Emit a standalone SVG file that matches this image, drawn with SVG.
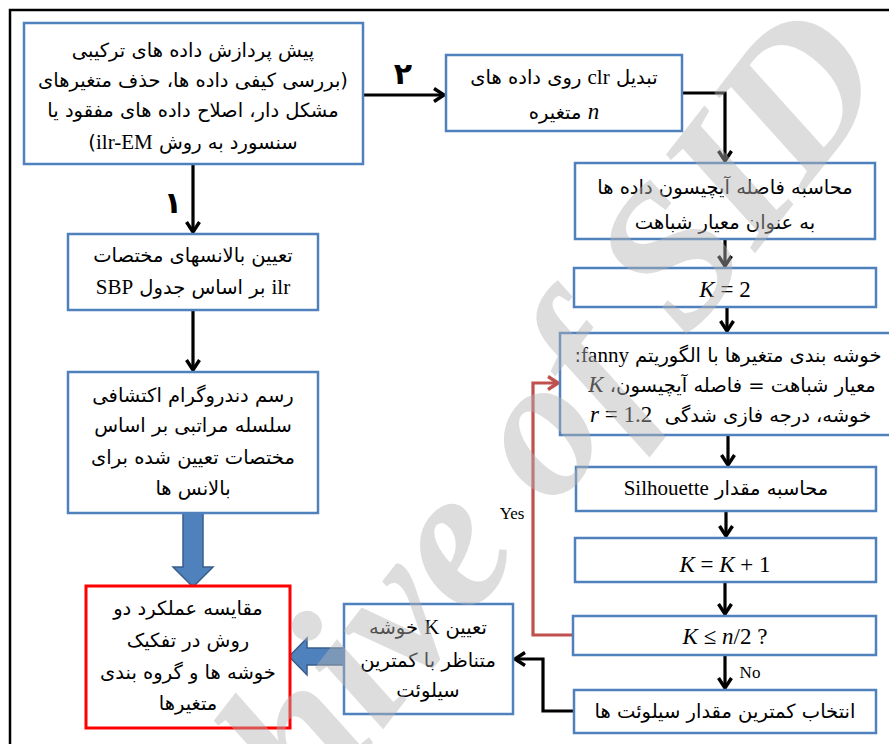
<svg xmlns="http://www.w3.org/2000/svg" width="889" height="744" viewBox="0 0 889 744">
<style>
.box{fill:#fff;stroke:#4F81BD;stroke-width:2.5}
.red{fill:#fff;stroke:#FF0000;stroke-width:3}
.fa{font-family:"DejaVu Sans","Noto Sans",sans-serif;font-size:19.5px;fill:#000}
.lat{font-family:"Liberation Serif",serif;font-size:21px}
.mi{font-family:"Liberation Serif",serif;font-style:italic}
.math{font-family:"Liberation Serif",serif;font-size:23px;fill:#000}
.lbl{font-family:"Liberation Serif",serif;font-size:17px;fill:#000}
.num{font-family:"DejaVu Sans",sans-serif;font-size:30px;font-weight:bold;fill:#000}
.conn{fill:none;stroke:#000;stroke-width:3.2}
.back{fill:none;stroke:#C0504D;stroke-width:3.2}
.blk{fill:#4F81BD;stroke:#385D8A;stroke-width:1.5}
.wm{font-family:"Liberation Serif",serif;font-style:italic;font-weight:bold;font-size:200px;fill:#b4b4b4;fill-opacity:0.45}
</style>
<defs>
<marker id="ah" viewBox="0 0 14 16" refX="12" refY="8" markerWidth="14" markerHeight="16" markerUnits="userSpaceOnUse" orient="auto">
<path d="M2,1.5 L12,8 L2,14.5" fill="none" stroke="#000" stroke-width="3.4"/>
</marker>
<marker id="ahr" viewBox="0 0 14 16" refX="12" refY="8" markerWidth="14" markerHeight="16" markerUnits="userSpaceOnUse" orient="auto">
<path d="M2,1.5 L12,8 L2,14.5" fill="none" stroke="#C0504D" stroke-width="3.4"/>
</marker>
</defs>
<rect width="889" height="744" fill="#fff"/>
<path d="M10,744 V10 H889" fill="none" stroke="#000" stroke-width="2.5"/>

<g id="connectors">
<path class="conn" d="M363,95 H444" marker-end="url(#ah)"/>
<path class="conn" d="M193,164 V232" marker-end="url(#ah)"/>
<path class="conn" d="M193,310 V370" marker-end="url(#ah)"/>
<path class="conn" d="M682,93 H725 V161" marker-end="url(#ah)"/>
<path class="conn" d="M725,239 V266" marker-end="url(#ah)"/>
<path class="conn" d="M727,307 V331" marker-end="url(#ah)"/>
<path class="conn" d="M728,435 V465" marker-end="url(#ah)"/>
<path class="conn" d="M726,511 V536" marker-end="url(#ah)"/>
<path class="conn" d="M725,582 V614" marker-end="url(#ah)"/>
<path class="conn" d="M725,655 V688" marker-end="url(#ah)"/>
<path class="conn" d="M573,711 H543 V659 H515" marker-end="url(#ah)"/>
<path class="back" d="M573,635 H533 V383 H558" marker-end="url(#ahr)"/>
<path class="blk" d="M183,513 H203 V567 H213 L193,587 L173,567 H183 Z"/>
<path class="blk" d="M344,648 V665 H307 V675 L289,656.5 L307,638 V648 Z"/>
<text class="num" x="403" y="84" text-anchor="middle">۲</text>
<text class="num" x="173" y="213" text-anchor="middle">۱</text>
<text class="lbl" x="512" y="519" text-anchor="middle">Yes</text>
<text class="lbl" x="750" y="678" text-anchor="middle">No</text>
</g>

<g id="n1">
<rect class="box" x="24" y="23" width="339" height="141"/>
<text class="fa" direction="rtl" text-anchor="middle" x="193" y="57">پیش پردازش داده های ترکیبی</text>
<text class="fa" direction="rtl" text-anchor="middle" x="193" y="87">(بررسی کیفی داده ها، حذف متغیرهای</text>
<text class="fa" direction="rtl" text-anchor="middle" x="193" y="117">مشکل دار، اصلاح داده های مفقود یا</text>
<text class="fa" direction="rtl" text-anchor="middle" x="193" y="149">سنسورد به روش <tspan class="lat">ilr-EM</tspan>)</text>
</g>

<g id="n2">
<rect class="box" x="446" y="55" width="236" height="76"/>
<text class="fa" direction="rtl" text-anchor="middle" x="564" y="84">تبدیل <tspan class="lat">clr</tspan> روی داده های</text>
<text class="fa" direction="rtl" text-anchor="middle" x="564" y="119"><tspan class="mi" font-size="23">n</tspan> متغیره</text>
</g>

<g id="n3">
<rect class="box" x="575" y="163" width="300" height="76"/>
<text class="fa" direction="rtl" text-anchor="middle" x="725" y="194">محاسبه فاصله آیچیسون داده ها</text>
<text class="fa" direction="rtl" text-anchor="middle" x="725" y="229">به عنوان معیار شباهت</text>
</g>

<g id="n4">
<rect class="box" x="574" y="268" width="302" height="39"/>
<text class="math" x="725" y="297" text-anchor="middle"><tspan class="mi">K</tspan> = 2</text>
</g>

<g id="n5">
<rect class="box" x="560" y="333" width="340" height="102"/>
<text class="fa" direction="rtl" text-anchor="middle" x="728" y="362">خوشه بندی متغیرها با الگوریتم <tspan class="lat">fanny</tspan>:</text>
<text class="fa" direction="rtl" text-anchor="middle" x="732" y="392">معیار شباهت = فاصله آیچیسون، <tspan class="mi" font-size="23">K</tspan></text>
<text class="math" x="590" y="422"><tspan class="mi">r</tspan> = 1.2</text>
<text class="fa" direction="rtl" text-anchor="middle" x="768" y="422">خوشه، درجه فازی شدگی</text>
</g>

<g id="n6">
<rect class="box" x="576" y="467" width="300" height="44"/>
<text class="fa" direction="rtl" text-anchor="middle" x="726" y="495">محاسبه مقدار <tspan class="lat">Silhouette</tspan></text>
</g>

<g id="n7">
<rect class="box" x="575" y="538" width="301" height="44"/>
<text class="math" x="725" y="572" text-anchor="middle"><tspan class="mi">K</tspan> = <tspan class="mi">K</tspan> + 1</text>
</g>

<g id="n8">
<rect class="box" x="573" y="616" width="303" height="39"/>
<text class="math" x="725" y="644" text-anchor="middle"><tspan class="mi">K</tspan> ≤ <tspan class="mi">n</tspan>/2 ?</text>
</g>

<g id="n9">
<rect class="box" x="574" y="690" width="302" height="43"/>
<text class="fa" direction="rtl" text-anchor="middle" x="725" y="718">انتخاب کمترین مقدار سیلوئت ها</text>
</g>

<g id="n10">
<rect class="box" x="344" y="604" width="169" height="110"/>
<text class="fa" direction="rtl" text-anchor="middle" x="428" y="634">تعیین <tspan class="lat">K</tspan> خوشه</text>
<text class="fa" direction="rtl" text-anchor="middle" x="428" y="667">متناظر با کمترین</text>
<text class="fa" direction="rtl" text-anchor="middle" x="428" y="697">سیلوئت</text>
</g>

<g id="n11">
<rect class="box" x="68" y="234" width="250" height="76"/>
<text class="fa" direction="rtl" text-anchor="middle" x="193" y="262">تعیین بالانسهای مختصات</text>
<text class="fa" direction="rtl" text-anchor="middle" x="193" y="294"><tspan class="lat">ilr</tspan> بر اساس جدول <tspan class="lat">SBP</tspan></text>
</g>

<g id="n12">
<rect class="box" x="68" y="372" width="250" height="141"/>
<text class="fa" direction="rtl" text-anchor="middle" x="193" y="402">رسم دندروگرام اکتشافی</text>
<text class="fa" direction="rtl" text-anchor="middle" x="193" y="432">سلسله مراتبی بر اساس</text>
<text class="fa" direction="rtl" text-anchor="middle" x="193" y="464">مختصات تعیین شده برای</text>
<text class="fa" direction="rtl" text-anchor="middle" x="193" y="495">بالانس ها</text>
</g>

<g id="n13">
<rect class="red" x="86" y="586" width="204" height="142"/>
<text class="fa" direction="rtl" text-anchor="middle" x="188" y="615">مقایسه عملکرد دو</text>
<text class="fa" direction="rtl" text-anchor="middle" x="188" y="647">روش در تفکیک</text>
<text class="fa" direction="rtl" text-anchor="middle" x="188" y="679">خوشه ها و گروه بندی</text>
<text class="fa" direction="rtl" text-anchor="middle" x="188" y="710">متغیرها</text>
</g>

<text class="wm" transform="translate(510,567) rotate(-52)" text-anchor="middle">Archive of SID</text>
</svg>
